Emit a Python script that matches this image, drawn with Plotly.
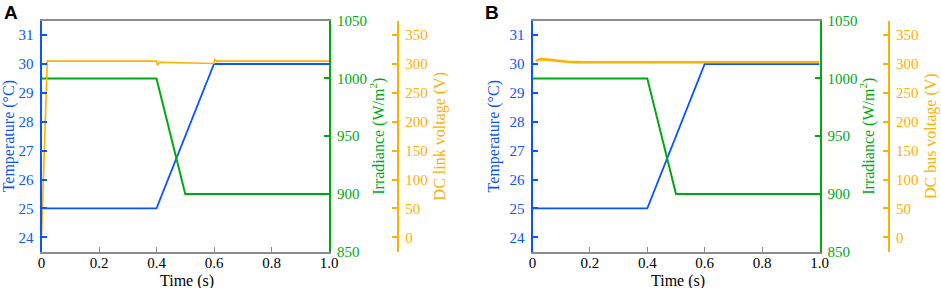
import plotly.graph_objects as go

# ---------------- data ----------------
# Panel A
time_temp_a = [0.0, 0.4, 0.6, 1.0]
temp_a = [25, 25, 30, 30]
time_irr_a = [0.0, 0.4, 0.5, 1.0]
irr_a = [1000, 1000, 900, 900]
time_volt_a = [0.0, 0.02, 0.4, 0.403, 0.41, 0.6, 0.603, 0.61, 1.0]
volt_a = [0, 305, 305, 298, 303, 301, 308, 305, 305]

# Panel B
time_temp_b = [0.0, 0.4, 0.6, 1.0]
temp_b = [25, 25, 30, 30]
time_irr_b = [0.0, 0.4, 0.5, 1.0]
irr_b = [1000, 1000, 900, 900]
time_volt_b = [0.012, 0.02, 0.035, 0.05, 0.08, 0.12, 0.17, 0.3, 0.6, 1.0]
volt_b = [305, 307.5, 308.5, 307.5, 305.5, 304, 303.2, 303, 303, 303]

time_ticks = [0, 0.2, 0.4, 0.6, 0.8, 1.0]
time_tick_labels = ["0", "0.2", "0.4", "0.6", "0.8", "1.0"]
temp_ticks = [24, 25, 26, 27, 28, 29, 30, 31]
irr_ticks = [850, 900, 950, 1000, 1050]
volt_ticks = [0, 50, 100, 150, 200, 250, 300, 350]

# ---------------- styling ----------------
BLUE = "#0a55ff"
GREEN = "#00a814"
ORANGE = "#ffb000"
GREY = "#8c8c8c"
FONT = "Liberation Serif"
W, H = 941, 288

ydom = [1 - 251.7 / H, 1 - 20.7 / H]
xdom_a = [41.5 / W, 329 / W]
xdom_b = [532.5 / W, 819.5 / W]
vpos_a = 398.3 / W
vpos_b = 889 / W

fig = go.Figure()

def add_panel(tt, tv, it, iv, vt, vv, xa, ya_t, ya_i, ya_v, vwidth):
    fig.add_trace(go.Scatter(x=tt, y=tv, mode="lines", line=dict(color=BLUE, width=1.8),
                             xaxis=xa, yaxis=ya_t, showlegend=False))
    fig.add_trace(go.Scatter(x=it, y=iv, mode="lines", line=dict(color=GREEN, width=2),
                             xaxis=xa, yaxis=ya_i, showlegend=False))
    fig.add_trace(go.Scatter(x=vt, y=vv, mode="lines", line=dict(color=ORANGE, width=vwidth),
                             xaxis=xa, yaxis=ya_v, showlegend=False))

add_panel(time_temp_a, temp_a, time_irr_a, irr_a, time_volt_a, volt_a, "x", "y", "y2", "y3", 1.6)
add_panel(time_temp_b, temp_b, time_irr_b, irr_b, time_volt_b, volt_b, "x2", "y4", "y5", "y6", 2.6)

def xaxis_cfg(dom, anchor):
    return dict(domain=dom, anchor=anchor, range=[0, 1], tickvals=time_ticks, ticktext=time_tick_labels,
                ticks="inside", ticklen=5, tickcolor=GREY, tickwidth=1,
                showline=True, linecolor=GREY, linewidth=1.5, mirror=True,
                showgrid=False, zeroline=False, ticklabelstandoff=-3,
                tickfont=dict(family=FONT, size=15, color="black"),
                automargin=False)

def yaxis_cfg(color, rng, ticks, title, side, anchor, overlaying=None, position=None, standoff=6):
    d = dict(range=rng, tickvals=ticks, ticks="inside", ticklen=5, tickcolor=color, tickwidth=1.5,
             showline=True, linecolor=color, linewidth=2, side=side,
             showgrid=False, zeroline=False,
             tickfont=dict(family=FONT, size=15, color=color),
             title=dict(text=title, font=dict(family=FONT, size=16, color=color), standoff=standoff),
             automargin=False, anchor=anchor, domain=ydom, ticklabelstandoff=3)
    if overlaying:
        d["overlaying"] = overlaying
    if position is not None:
        d["position"] = position
    return d

xtitle_y = 1 - 281 / H
fig.update_layout(
    width=W, height=H,
    margin=dict(l=0, r=0, t=0, b=0),
    plot_bgcolor="white", paper_bgcolor="white",
    xaxis=xaxis_cfg(xdom_a, "y"),
    xaxis2=xaxis_cfg(xdom_b, "y4"),
    yaxis=yaxis_cfg(BLUE, [23.5, 31.5], temp_ticks, "Temperature (°C)", "left", "x"),
    yaxis2=yaxis_cfg(GREEN, [850, 1050], irr_ticks, "Irradiance (W/m<sup>2</sup>)", "right", "x", "y"),
    yaxis3=yaxis_cfg(ORANGE, [-25, 375], volt_ticks, "DC link voltage (V)", "right", "free", "y", vpos_a),
    yaxis4=yaxis_cfg(BLUE, [23.5, 31.5], temp_ticks, "Temperature (°C)", "left", "x2"),
    yaxis5=yaxis_cfg(GREEN, [850, 1050], irr_ticks, "Irradiance (W/m<sup>2</sup>)", "right", "x2", "y4"),
    yaxis6=yaxis_cfg(ORANGE, [-25, 375], volt_ticks, "DC bus voltage (V)", "right", "free", "y4", vpos_b),
    annotations=[
        dict(text="<b>A</b>", x=2 / W, y=1, xref="paper", yref="paper", xanchor="left", yanchor="top",
             showarrow=False, font=dict(family="Liberation Sans", size=19, color="black")),
        dict(text="<b>B</b>", x=483 / W, y=1, xref="paper", yref="paper", xanchor="left", yanchor="top",
             showarrow=False, font=dict(family="Liberation Sans", size=19, color="black")),
        dict(text="Time (s)", x=sum(xdom_a) / 2 + 2 / W, y=xtitle_y, xref="paper", yref="paper",
             xanchor="center", yanchor="middle", showarrow=False,
             font=dict(family=FONT, size=16, color="black")),
        dict(text="Time (s)", x=sum(xdom_b) / 2 + 2 / W, y=xtitle_y, xref="paper", yref="paper",
             xanchor="center", yanchor="middle", showarrow=False,
             font=dict(family=FONT, size=16, color="black")),
    ],
)

fig.write_html("out.html", config={"displayModeBar": False},
               post_script="document.body.style.margin='0px';document.body.style.overflow='hidden';")
